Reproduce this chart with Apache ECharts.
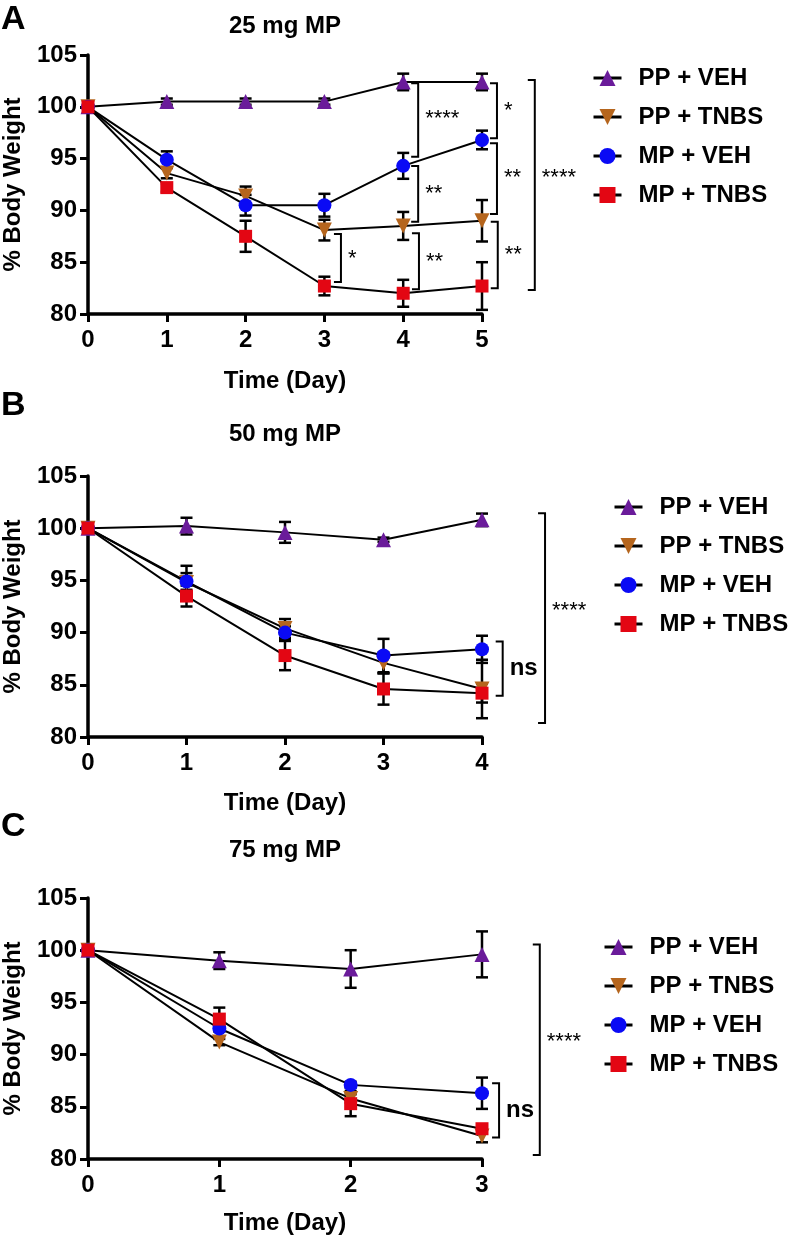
<!DOCTYPE html>
<html><head><meta charset="utf-8">
<script src="https://cdn.jsdelivr.net/npm/echarts/dist/echarts.min.js"></script>
<style>html,body{margin:0;padding:0;background:#fff}#c{width:793px;height:1241px}</style>
</head><body><div id="c"></div><script>
// ---------- DATA ----------
const groups = ['PP + VEH', 'PP + TNBS', 'MP + VEH', 'MP + TNBS'];
const yTicks = [80, 85, 90, 95, 100, 105];

const daysA = [0, 1, 2, 3, 4, 5];
const A_ppVeh     = [100, 100.5, 100.5, 100.5, 102.4, 102.4];
const A_ppVehErr  = [0, 0.3, 0.3, 0.3, 0.8, 0.8];
const A_ppTnbs    = [100, 93.6, 91.4, 88.1, 88.5, 89.0];
const A_ppTnbsErr = [0, 0.5, 0.9, 1.0, 1.35, 2.0];
const A_mpVeh     = [100, 94.9, 90.5, 90.5, 94.3, 96.8];
const A_mpVehErr  = [0, 0.8, 1.0, 1.1, 1.25, 0.9];
const A_mpTnbs    = [100, 92.2, 87.5, 82.7, 82.0, 82.7];
const A_mpTnbsErr = [0, 0.4, 1.5, 0.9, 1.3, 2.3];
// brackets: [day position, y from, y to, label]
const A_brackets = [
  [4.19, 102.27, 95.18, '****'],
  [4.19, 94.29, 88.91, '**'],
  [4.20, 87.79, 82.38, '**'],
  [3.21, 87.73, 83.10, '*'],
  [5.19, 102.27, 96.96, '*'],
  [5.19, 96.48, 89.65, '**'],
  [5.20, 88.91, 82.48, '**'],
  [5.67, 102.59, 82.32, '****']
];

const daysB = [0, 1, 2, 3, 4];
const B_ppVeh     = [100, 100.2, 99.6, 98.9, 100.8];
const B_ppVehErr  = [0, 0.8, 1.0, 0.2, 0.6];
const B_ppTnbs    = [100, 94.8, 90.4, 87.1, 84.6];
const B_ppTnbsErr = [0, 1.6, 0.9, 1.0, 2.8];
const B_mpVeh     = [100, 94.9, 90.0, 87.8, 88.4];
const B_mpVehErr  = [0, 0.8, 0.6, 1.6, 1.3];
const B_mpTnbs    = [100, 93.5, 87.8, 84.6, 84.2];
const B_mpTnbsErr = [0, 1.0, 1.4, 1.5, 0.9];
const B_brackets = [
  [4.21, 89.15, 83.95, 'ns'],
  [4.64, 101.43, 81.34, '****']
];

const daysC = [0, 1, 2, 3];
const C_ppVeh     = [100, 99.0, 98.2, 99.6];
const C_ppVehErr  = [0, 0.8, 1.8, 2.2];
const C_ppTnbs    = [100, 91.2, 85.8, 82.2];
const C_ppTnbsErr = [0, 0.3, 0.4, 0.6];
const C_mpVeh     = [100, 92.5, 87.1, 86.3];
const C_mpVehErr  = [0, 0.3, 0.3, 1.5];
const C_mpTnbs    = [100, 93.4, 85.3, 82.9];
const C_mpTnbsErr = [0, 1.1, 1.2, 0.3];
const C_brackets = [
  [3.13, 87.26, 82.07, 'ns'],
  [3.44, 100.54, 80.38, '****']
];

// ---------- STYLE ----------
const FONT = "'Liberation Sans', Arial, Helvetica, sans-serif";
const styles = [
  {symbol: 'triangle', rotate: 0,   size: 15, color: '#6a1b9a'},
  {symbol: 'triangle', rotate: 180, size: 15, color: '#b5651d'},
  {symbol: 'circle',   rotate: 0,   size: 14, color: '#0a0af5'},
  {symbol: 'rect',     rotate: 0,   size: 13, color: '#e30613'}
];

const panels = [
  {letter: 'A', title: '25 mg MP', days: daysA, top: 55, height: 259, nameGap: 55,
   titleY: 26, letterY: 20, legendLeft: 592, legendTop: 66,
   vals: [A_ppVeh, A_ppTnbs, A_mpVeh, A_mpTnbs], errs: [A_ppVehErr, A_ppTnbsErr, A_mpVehErr, A_mpTnbsErr],
   brackets: A_brackets},
  {letter: 'B', title: '50 mg MP', days: daysB, top: 476, height: 261, nameGap: 54,
   titleY: 434, letterY: 406, legendLeft: 613, legendTop: 495,
   vals: [B_ppVeh, B_ppTnbs, B_mpVeh, B_mpTnbs], errs: [B_ppVehErr, B_ppTnbsErr, B_mpVehErr, B_mpTnbsErr],
   brackets: B_brackets},
  {letter: 'C', title: '75 mg MP', days: daysC, top: 898, height: 261, nameGap: 52,
   titleY: 850, letterY: 827, legendLeft: 603, legendTop: 935,
   vals: [C_ppVeh, C_ppTnbs, C_mpVeh, C_mpTnbs], errs: [C_ppVehErr, C_ppTnbsErr, C_mpVehErr, C_mpTnbsErr],
   brackets: C_brackets}
];

const GRID_LEFT = 88, GRID_W = 394;

function renderErr(params, api) {
  const x = api.value(0), y = api.value(1), e = api.value(2);
  if (!e) return null;
  const t = api.coord([x, y + e]), b = api.coord([x, y - e]);
  const w = 6;
  const st = {stroke: '#000', lineWidth: 2.5};
  return {type: 'group', children: [
    {type: 'line', shape: {x1: t[0], y1: t[1], x2: b[0], y2: b[1]}, style: st},
    {type: 'line', shape: {x1: t[0] - w, y1: t[1], x2: t[0] + w, y2: t[1]}, style: st},
    {type: 'line', shape: {x1: b[0] - w, y1: b[1], x2: b[0] + w, y2: b[1]}, style: st}
  ]};
}

function makeBracketRender(list) {
  return function (params, api) {
    const b = list[params.dataIndex];
    const p1 = api.coord([b[0], b[1]]), p2 = api.coord([b[0], b[2]]);
    const t = 7;
    const ns = b[3] === 'ns';
    const mid = (p1[1] + p2[1]) / 2;
    const h = Math.abs(p2[1] - p1[1]);
    const ty = ns ? mid : mid - 0.05 * h + 3;
    return {type: 'group', children: [
      {type: 'polyline', shape: {points: [[p1[0] - t, p1[1]], [p1[0], p1[1]], [p2[0], p2[1]], [p2[0] - t, p2[1]]]},
       style: {stroke: '#000', lineWidth: 2, fill: 'none'}},
      {type: 'text', x: p1[0] + 7, y: ty,
       style: {text: b[3], fill: '#000', font: (ns ? 'bold 24px ' : '22px ') + FONT, align: 'left', verticalAlign: 'middle'}}
    ]};
  };
}

const grid = [], xAxis = [], yAxis = [], series = [], legend = [], graphic = [];
panels.forEach((p, i) => {
  grid.push({left: GRID_LEFT, width: GRID_W, top: p.top, height: p.height});
  const maxDay = p.days[p.days.length - 1];
  xAxis.push({
    gridIndex: i, type: 'value', min: 0, max: maxDay, interval: 1,
    name: 'Time (Day)', nameLocation: 'middle', nameGap: p.nameGap,
    nameTextStyle: {fontSize: 24, fontWeight: 'bold', color: '#000', fontFamily: FONT},
    axisLine: {lineStyle: {color: '#000', width: 3.5}},
    axisTick: {length: 8, lineStyle: {color: '#000', width: 3}},
    axisLabel: {fontSize: 24, fontWeight: 'bold', color: '#000', fontFamily: FONT, margin: 14},
    splitLine: {show: false}
  });
  yAxis.push({
    gridIndex: i, type: 'value', min: yTicks[0], max: yTicks[yTicks.length - 1], interval: 5,
    name: '% Body Weight', nameLocation: 'middle', nameGap: 63, nameRotate: 90,
    nameTextStyle: {fontSize: 24, fontWeight: 'bold', color: '#000', fontFamily: FONT},
    axisLine: {show: true, lineStyle: {color: '#000', width: 3.5}},
    axisTick: {show: true, length: 8, lineStyle: {color: '#000', width: 3}},
    axisLabel: {fontSize: 24, fontWeight: 'bold', color: '#000', fontFamily: FONT, margin: 11},
    splitLine: {show: false}
  });
  groups.forEach((g, k) => {
    const s = styles[k];
    series.push({
      type: 'custom', xAxisIndex: i, yAxisIndex: i, z: 2, clip: false, silent: true,
      renderItem: renderErr, encode: {x: 0, y: 1},
      data: p.days.map((d, j) => [d, p.vals[k][j], p.errs[k][j]])
    });
    series.push({
      type: 'line', name: g, xAxisIndex: i, yAxisIndex: i, z: 3 + k,
      data: p.days.map((d, j) => [d, p.vals[k][j]]),
      symbol: s.symbol, symbolRotate: s.rotate, symbolSize: s.size, showSymbol: true,
      itemStyle: {color: s.color, borderWidth: 0},
      lineStyle: {color: '#000', width: 2},
      emphasis: {disabled: true}
    });
  });
  series.push({
    type: 'custom', xAxisIndex: i, yAxisIndex: i, z: 10, clip: false, silent: true,
    renderItem: makeBracketRender(p.brackets), encode: {x: 0, y: [1, 2]},
    data: p.brackets.map(b => [b[0], b[1], b[2]])
  });
  legend.push({
    data: groups, orient: 'vertical', left: p.legendLeft, top: p.legendTop, padding: 0,
    itemWidth: 28, itemHeight: 20, itemGap: 15, selectedMode: false,
    lineStyle: {color: '#000', width: 3},
    textStyle: {fontSize: 24, fontWeight: 'bold', color: '#000', fontFamily: FONT, padding: [0, 0, 0, 12]}
  });
  graphic.push({type: 'text', x: GRID_LEFT + GRID_W / 2, y: p.titleY,
    style: {text: p.title, font: 'bold 24px ' + FONT, fill: '#000', align: 'center', verticalAlign: 'middle'}});
  graphic.push({type: 'text', x: 1, y: p.letterY,
    style: {text: p.letter, font: 'bold 34px ' + FONT, fill: '#000', align: 'left', verticalAlign: 'middle'}});
});

const chart = echarts.init(document.getElementById('c'), null, {renderer: 'canvas'});
chart.setOption({
  animation: false, backgroundColor: '#fff',
  grid, xAxis, yAxis, series, legend, graphic
});
</script></body></html>
